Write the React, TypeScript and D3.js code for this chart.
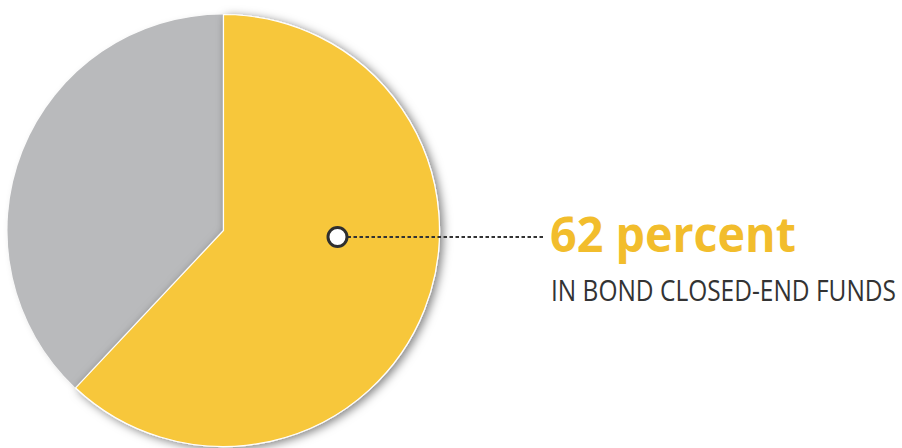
import React, { useLayoutEffect, useRef, useState } from "react";
import * as d3 from "d3";

const labels = ["Bond closed-end funds", "Other closed-end funds"];
const values = [62, 38];
const colors = ["#F7C73B", "#B9BABC"];
const headline = "62 percent";
const subline = "IN BOND CLOSED-END FUNDS";

const W = 902;
const H = 448;
const cx = 223.5;
const cy = 230.5;
const R = 216;

// Text condensed horizontally to a target width
function FitText(props: {
  x: number;
  y: number;
  width: number;
  fill: string;
  size: number;
  weight: string;
  children: string;
}) {
  const ref = useRef<SVGTextElement>(null);
  const [k, setK] = useState(0.85);
  useLayoutEffect(() => {
    if (ref.current) {
      // getBBox is in the element's own space, i.e. before its scale
      const w = ref.current.getBBox().width;
      if (w > 0) setK(props.width / w);
    }
  }, [props.width]);
  return (
    <text
      ref={ref}
      transform={`translate(${props.x},${props.y}) scale(${k},1)`}
      fill={props.fill}
      fontFamily="'Open Sans', sans-serif"
      fontWeight={props.weight}
      fontSize={props.size}
    >
      {props.children}
    </text>
  );
}

export default function App() {
  const pie = d3
    .pie<number>()
    .sort(null)
    .startAngle(0)
    .endAngle(2 * Math.PI)
    .value((d) => d);
  const arcs = pie(values);
  const arc = d3.arc<d3.PieArcDatum<number>>().innerRadius(0).outerRadius(R);

  const main = arcs[0];
  const other = arcs[1];
  // callout dot inside the main slice, level with its label
  const dotX = cx + 114;
  const dotY = cy + 6.5;
  const lineEnd = 545;

  return (
    <svg
      width={W}
      height={H}
      style={{ position: "absolute", left: 0, top: 0 }}
      viewBox={`0 0 ${W} ${H}`}
    >
      <defs>
        <filter id="pieShadow" x="-20%" y="-20%" width="140%" height="140%">
          <feDropShadow dx="3" dy="2" stdDeviation="5" floodColor="#000" floodOpacity="0.5" />
        </filter>
        <filter id="softShadow" x="-20%" y="-20%" width="140%" height="140%">
          <feDropShadow dx="2" dy="2" stdDeviation="3" floodColor="#000" floodOpacity="0.12" />
        </filter>
      </defs>
      <g transform={`translate(${cx},${cy})`}>
        <path d={arc(other) || ""} fill={colors[1]} filter="url(#softShadow)" />
        <path
          d={arc(main) || ""}
          fill={colors[0]}
          stroke="#ffffff"
          strokeWidth={1.2}
          filter="url(#pieShadow)"
        />
      </g>
      <line
        x1={dotX + 10}
        x2={lineEnd}
        y1={dotY}
        y2={dotY}
        stroke="#333333"
        strokeWidth={2.2}
        strokeDasharray="3.5 2.5"
      />
      <circle cx={dotX} cy={dotY} r={9.5} fill="#ffffff" stroke="#2f2f2f" strokeWidth={3} />
      <FitText x={550} y={252} width={246} fill="#F2BD2C" size={48} weight="bold">
        {headline}
      </FitText>
      <FitText x={551} y={300.5} width={345} fill="#333333" size={29} weight="normal">
        {subline}
      </FitText>
    </svg>
  );
}
